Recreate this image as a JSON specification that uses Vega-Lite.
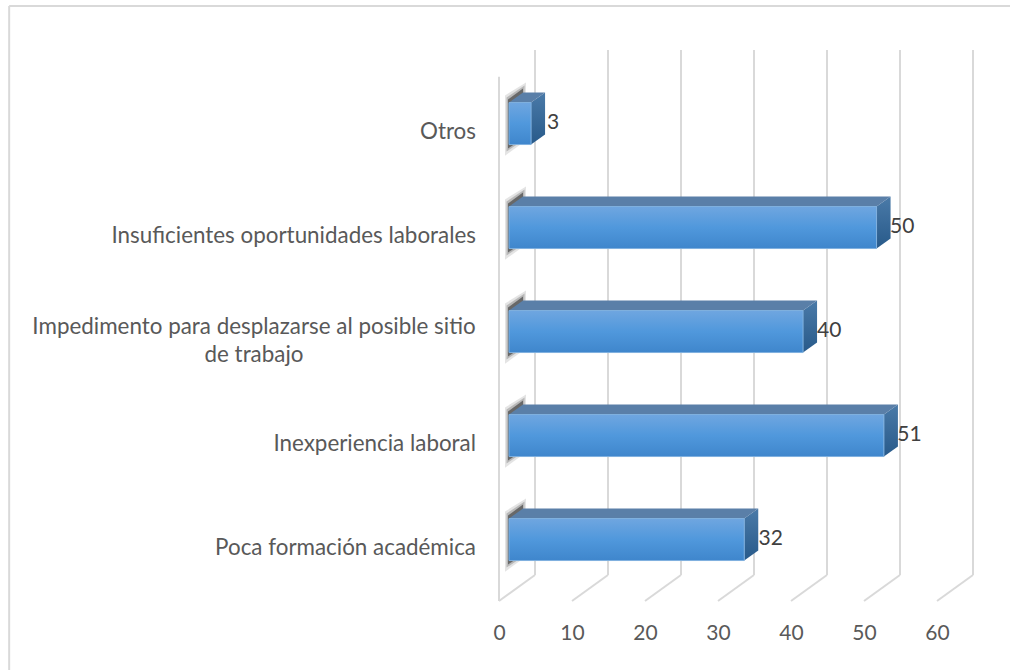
{
"$schema":"https://vega.github.io/schema/vega-lite/v6.json",
"width":1001,"height":664,
"autosize":{"type":"none"},
"padding":{"left":9,"top":6,"right":0,"bottom":0},
"background":"white",
"view":{"stroke":null},
"datasets":{
 "barras":[
  {"categoria":"Poca formación académica","valor":32,"orden":1},
  {"categoria":"Inexperiencia laboral","valor":51,"orden":2},
  {"categoria":"Impedimento para desplazarse al posible sitio|de trabajo","valor":40,"orden":3},
  {"categoria":"Insuficientes oportunidades laborales","valor":50,"orden":4},
  {"categoria":"Otros","valor":3,"orden":5}
 ],
 "marcas":[{"tick":0},{"tick":10},{"tick":20},{"tick":30},{"tick":40},{"tick":50},{"tick":60}]
},
"layer":[
 {"data":{"values":[{"x0":-67.1,"x1":70,"y0":5.72,"y1":-0.67}]},
  "mark":{"type":"rule","stroke":"#d9d9d9","strokeWidth":2},
  "encoding":{"x":{"field":"x0","type":"quantitative","scale":{"domain":[0,65],"range":[490,964.5],"nice":false},"axis":{"values":[0,10,20,30,40,50,60],"orient":"bottom","offset":-48,"grid":false,"domain":false,"ticks":false,"title":null,"labelFont":"Lato","labelFontSize":21,"labelColor":"#595959","labelPadding":0,"labelFlush":false}},
   "y":{"field":"y0","type":"quantitative","scale":{"domain":[0,5.298],"range":[595,44],"nice":false},"axis":null},
   "y2":{"field":"y1"}}},
 {"data":{"values":[{"x0":-67.1,"x1":70,"y0":5.72}]},
  "mark":{"type":"rule","stroke":"#d9d9d9","strokeWidth":2},
  "encoding":{"x":{"field":"x0","type":"quantitative"},"x2":{"field":"x1"},"y":{"field":"y0","type":"quantitative"}}},
 {"data":{"name":"marcas"},
  "transform":[{"calculate":"datum.tick+4.93","as":"xf"},{"calculate":"5.298","as":"y0"},{"calculate":"0.25","as":"y1"}],
  "mark":{"type":"rule","stroke":"#d9d9d9","strokeWidth":2},
  "encoding":{"x":{"field":"xf","type":"quantitative"},"y":{"field":"y0","type":"quantitative"},"y2":{"field":"y1"}}},
 {"data":{"name":"marcas"},
  "transform":[{"calculate":"datum.tick+4.93","as":"xf"},{"calculate":"0","as":"y0"},{"calculate":"0.25","as":"y1"}],
  "mark":{"type":"rule","stroke":"#d9d9d9","strokeWidth":2},
  "encoding":{"x":{"field":"tick","type":"quantitative"},"x2":{"field":"xf"},"y":{"field":"y0","type":"quantitative"},"y2":{"field":"y1"}}},
 {"data":{"values":[{"x0":0,"y0":0,"y1":5.04}]},
  "mark":{"type":"rule","stroke":"#d9d9d9","strokeWidth":2},
  "encoding":{"x":{"field":"x0","type":"quantitative"},"y":{"field":"y0","type":"quantitative"},"y2":{"field":"y1"}}},
 {"data":{"name":"barras"},
  "transform":[
   {"calculate":"[0,1]","as":"p"},{"flatten":["p"]},
   {"calculate":"0.82+datum.p*2.88","as":"xs"},
   {"calculate":"datum.orden-0.409+0.27+datum.p*0.124","as":"ys"},
   {"calculate":"datum.orden-0.409-0.31+datum.p*0.147","as":"ys2"}],
  "mark":{"type":"area","fill":"#777777","opacity":0.2},
  "encoding":{"x":{"field":"xs","type":"quantitative"},"y":{"field":"ys","type":"quantitative"},"y2":{"field":"ys2"},"detail":{"field":"orden","type":"nominal"}}},
 {"data":{"name":"barras"},
  "transform":[
   {"calculate":"[0,1]","as":"p"},{"flatten":["p"]},
   {"calculate":"1.03+datum.p*2.47","as":"xs"},
   {"calculate":"datum.orden-0.409+0.25+datum.p*0.115","as":"ys"},
   {"calculate":"datum.orden-0.409-0.27+datum.p*0.116","as":"ys2"}],
  "mark":{"type":"area","fill":"#666666","opacity":0.35},
  "encoding":{"x":{"field":"xs","type":"quantitative"},"y":{"field":"ys","type":"quantitative"},"y2":{"field":"ys2"},"detail":{"field":"orden","type":"nominal"}}},
 {"data":{"name":"barras"},
  "transform":[
   {"calculate":"[0,1]","as":"p"},{"flatten":["p"]},
   {"calculate":"1.23+datum.p*2.06","as":"xs"},
   {"calculate":"datum.orden-0.409+0.23+datum.p*0.107","as":"ys"},
   {"calculate":"datum.orden-0.409-0.24+datum.p*0.096","as":"ys2"}],
  "mark":{"type":"area","fill":"#4d4d4d","opacity":0.75},
  "encoding":{"x":{"field":"xs","type":"quantitative"},"y":{"field":"ys","type":"quantitative"},"y2":{"field":"ys2"},"detail":{"field":"orden","type":"nominal"}}},
 {"data":{"name":"barras"},
  "transform":[
   {"calculate":"1.37+datum.valor*1.007","as":"xf"},
   {"calculate":"[0,1]","as":"p"},{"flatten":["p"]},
   {"calculate":"datum.xf+datum.p*1.92","as":"xs"},
   {"calculate":"datum.orden-0.409+0.202+datum.p*0.096","as":"ys"},
   {"calculate":"datum.orden-0.409-0.202+datum.p*0.096","as":"ys2"}],
  "mark":{"type":"area","fill":{"x1":0,"y1":0,"x2":0,"y2":1,"gradient":"linear","stops":[{"offset":0,"color":"#4a7aa8"},{"offset":1,"color":"#285a8a"}]}},
  "encoding":{"x":{"field":"xs","type":"quantitative"},"y":{"field":"ys","type":"quantitative"},"y2":{"field":"ys2"},"detail":{"field":"orden","type":"nominal"}}},
 {"data":{"name":"barras"},
  "transform":[
   {"calculate":"1.37+datum.valor*1.007","as":"xf"},
   {"calculate":"[0,1,2,3]","as":"p"},{"flatten":["p"]},
   {"calculate":"datum.p==0?1.37:datum.p==1?3.29:datum.p==2?datum.xf:datum.xf+1.92","as":"xs"},
   {"calculate":"datum.orden-0.409+0.202+(datum.p==0?0:0.096)","as":"ys"},
   {"calculate":"datum.orden-0.409+0.202+(datum.p==3?0.096:0)","as":"ys2"}],
  "mark":{"type":"area","fill":"#5a7fa8"},
  "encoding":{"x":{"field":"xs","type":"quantitative"},"y":{"field":"ys","type":"quantitative"},"y2":{"field":"ys2"},"detail":{"field":"orden","type":"nominal"}}},
 {"data":{"name":"barras"},
  "transform":[
   {"calculate":"1.37","as":"xi"},
   {"calculate":"1.37+datum.valor*1.007","as":"xf"},
   {"calculate":"datum.orden-0.409+0.202","as":"yt"},
   {"calculate":"datum.orden-0.409-0.202","as":"yb"}],
  "mark":{"type":"rect","stroke":"#7fb0de","strokeWidth":1,"fill":{"x1":0,"y1":0,"x2":0,"y2":1,"gradient":"linear","stops":[{"offset":0,"color":"#6fa6e0"},{"offset":0.5,"color":"#5098dc"},{"offset":1,"color":"#3f86cc"}]}},
  "encoding":{"x":{"field":"xi","type":"quantitative"},"x2":{"field":"xf"},"y":{"field":"yt","type":"quantitative"},"y2":{"field":"yb"}}},
 {"data":{"name":"barras"},
  "transform":[{"calculate":"datum.orden-0.4","as":"yc"}],
  "mark":{"type":"text","align":"left","baseline":"middle","xOffset":26,"font":"Lato","fontSize":21,"fill":"#404040"},
  "encoding":{"x":{"field":"valor","type":"quantitative"},"y":{"field":"yc","type":"quantitative"},"text":{"field":"valor","type":"quantitative"}}},
 {"data":{"name":"barras"},
  "transform":[{"filter":"indexof(datum.categoria,'|')<0"},{"calculate":"datum.orden-0.49","as":"yc"},{"calculate":"0","as":"xi"}],
  "mark":{"type":"text","align":"right","baseline":"middle","xOffset":-23,"font":"Lato","fontSize":22.4,"fill":"#595959"},
  "encoding":{"x":{"field":"xi","type":"quantitative"},"y":{"field":"yc","type":"quantitative"},"text":{"field":"categoria","type":"nominal"}}},
 {"data":{"name":"barras"},
  "transform":[{"filter":"indexof(datum.categoria,'|')>=0"},{"calculate":"datum.orden-0.365","as":"yc"},{"calculate":"0","as":"xi"}],
  "mark":{"type":"text","align":"center","baseline":"middle","xOffset":-245,"font":"Lato","fontSize":22.4,"fill":"#595959","lineBreak":"|","lineHeight":28},
  "encoding":{"x":{"field":"xi","type":"quantitative"},"y":{"field":"yc","type":"quantitative"},"text":{"field":"categoria","type":"nominal"}}}
]
}
